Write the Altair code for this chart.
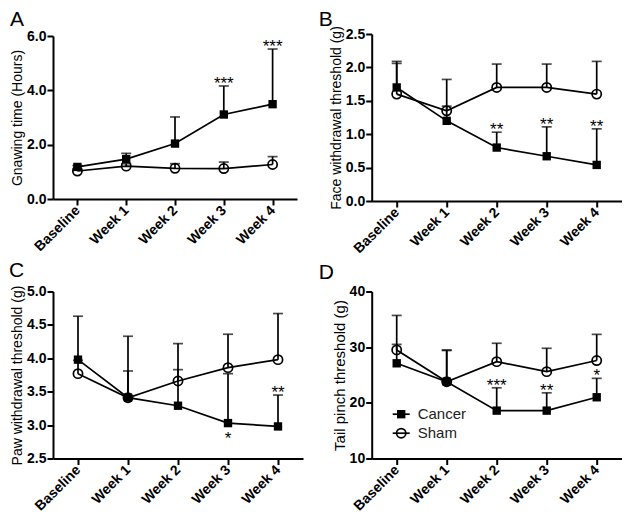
import altair as alt
import pandas as pd

weeks = ["Baseline", "Week 1", "Week 2", "Week 3", "Week 4"]
groups = ["Cancer", "Sham"]

# Panel A: Gnawing time (Hours)
a_cancer = [1.18, 1.47, 2.04, 3.11, 3.49]
a_cancer_top = [1.23, 1.68, 3.02, 4.16, 5.52]
a_sham = [1.03, 1.21, 1.13, 1.12, 1.27]
a_sham_top = [1.12, 1.30, 1.30, 1.36, 1.56]
a_stars = ["", "", "", "***", "***"]

# Panel B: Face withdrawal threshold (g)
b_cancer = [1.70, 1.20, 0.80, 0.67, 0.54]
b_cancer_top = [2.09, 1.42, 1.03, 1.11, 1.08]
b_sham = [1.60, 1.35, 1.70, 1.70, 1.60]
b_sham_top = [2.06, 1.82, 2.05, 2.05, 2.09]
b_stars = ["", "", "**", "**", "**"]

# Panel C: Paw withdrawal threshold (g)
c_cancer = [3.98, 3.41, 3.29, 3.03, 2.98]
c_cancer_top = [4.63, 3.81, 3.83, 3.77, 3.45]
c_sham = [3.77, 3.41, 3.66, 3.86, 3.98]
c_sham_top = [3.97, 4.33, 4.22, 4.36, 4.67]
c_stars = ["", "", "", "*", "**"]
c_stars_below = [False, False, False, True, False]

# Panel D: Tail pinch threshold (g)
d_cancer = [27.1, 23.8, 18.6, 18.6, 21.0]
d_cancer_top = [30.5, 29.4, 22.7, 21.8, 24.4]
d_sham = [29.5, 23.8, 27.4, 25.6, 27.6]
d_sham_top = [35.7, 29.5, 30.7, 29.8, 32.3]
d_stars = ["", "", "***", "**", "*"]

FONT = "Liberation Sans"
LW = 1.7


def panel(letter, title, title_size, cancer, cancer_top, sham, sham_top, stars,
          ydomain, yticks, yfmt, width, height, letter_xy, stars_below=None,
          legend=False):
    rows = []
    for i, w in enumerate(weeks):
        rows.append({"week": w, "group": "Cancer", "mean": cancer[i], "top": cancer_top[i]})
        rows.append({"week": w, "group": "Sham", "mean": sham[i], "top": sham_top[i]})
    df = pd.DataFrame(rows)
    star_rows = []
    for i, w in enumerate(weeks):
        if stars[i]:
            below = bool(stars_below[i]) if stars_below else False
            star_rows.append({"week": w, "label": stars[i],
                              "y": cancer[i] if below else cancer_top[i],
                              "below": below})
    sdf = pd.DataFrame(star_rows)

    X = alt.X("week:N", sort=weeks, title=None,
              scale=alt.Scale(type="point", padding=0.5),
              axis=alt.Axis(labelAngle=-45, labelAlign="right", labelBaseline="middle",
                            labelPadding=3, labelOverlap=False))

    def Yf(field):
        return alt.Y(field, title=title,
                     scale=alt.Scale(domain=ydomain, nice=False, zero=False),
                     axis=alt.Axis(values=yticks, format=yfmt, titleFontSize=title_size,
                                   titlePadding=2, labelPadding=1, labelOverlap=False,
                                   labelFlush=False))

    Y = Yf("mean:Q")
    base = alt.Chart(df)
    line = base.mark_line(color="black", strokeWidth=LW).encode(x=X, y=Y, detail="group:N")
    err = base.mark_rule(color="black", strokeWidth=LW).encode(x=X, y=Y, y2="top:Q")
    cap = base.mark_tick(color="black", size=10, thickness=LW).encode(x=X, y=Yf("top:Q"))
    sq = base.transform_filter(alt.datum.group == "Cancer").mark_point(
        shape="square", filled=True, size=70, color="black", opacity=1).encode(x=X, y=Y)
    ci = base.transform_filter(alt.datum.group == "Sham").mark_point(
        shape="circle", filled=False, size=85, color="black", strokeWidth=LW,
        opacity=1).encode(x=X, y=Y)
    layers = [line, err, cap, sq, ci]
    if len(sdf):
        sbase = alt.Chart(sdf)
        above = sbase.transform_filter(alt.datum.below == False).mark_text(
            font=FONT, fontSize=17, color="black", baseline="alphabetic", dy=3
        ).encode(x=X, y=Yf("y:Q"), text="label:N")
        layers.append(above)
        if stars_below and any(stars_below):
            below = sbase.transform_filter(alt.datum.below == True).mark_text(
                font=FONT, fontSize=17, color="black", baseline="alphabetic", dy=21
            ).encode(x=X, y=Yf("y:Q"), text="label:N")
            layers.append(below)
    ldf = pd.DataFrame({"t": [letter]})
    lt = alt.Chart(ldf).mark_text(font=FONT, fontSize=21, color="black", align="left",
                                  baseline="alphabetic").encode(
        x=alt.value(letter_xy[0]), y=alt.value(letter_xy[1]), text="t:N")
    layers.append(lt)
    if legend:
        for k, (g, yy) in enumerate([("Cancer", 122.7), ("Sham", 141.7)]):
            gdf = pd.DataFrame({"t": [g]})
            gc = alt.Chart(gdf)
            layers.append(gc.mark_rule(color="black", strokeWidth=LW).encode(
                x=alt.value(21), x2=alt.value(38), y=alt.value(yy)))
            if g == "Cancer":
                layers.append(gc.mark_point(shape="square", filled=True, size=70,
                                            color="black", opacity=1).encode(
                    x=alt.value(29.5), y=alt.value(yy)))
            else:
                layers.append(gc.mark_point(shape="circle", filled=False, size=85,
                                            color="black", strokeWidth=LW,
                                            opacity=1).encode(
                    x=alt.value(29.5), y=alt.value(yy)))
            layers.append(gc.mark_text(font=FONT, fontSize=15, color="#222",
                                       align="left", baseline="middle").encode(
                x=alt.value(46), y=alt.value(yy), text="t:N"))
    return alt.layer(*layers).properties(width=width, height=height)


pA = panel("A", "Gnawing time (Hours)", 14, a_cancer, a_cancer_top, a_sham,
           a_sham_top, a_stars, [0, 6], [0, 2, 4, 6], ".1f", 244, 163, (-43, -10.2))
pB = panel("B", "Face withdrawal threshold (g)", 14, b_cancer, b_cancer_top,
           b_sham, b_sham_top, b_stars, [0, 2.5], [0, 0.5, 1, 1.5, 2, 2.5], ".1f",
           250, 167, (-53, -8.2))
pC = panel("C", "Paw withdrawal threshold (g)", 14, c_cancer, c_cancer_top, c_sham,
           c_sham_top, c_stars, [2.5, 5], [2.5, 3, 3.5, 4, 4.5, 5], ".1f", 250, 167,
           (-44, -14.5), stars_below=c_stars_below)
pD = panel("D", "Tail pinch threshold (g)", 15, d_cancer, d_cancer_top, d_sham,
           d_sham_top, d_stars, [10, 40], [10, 20, 30, 40], "d", 250, 167,
           (-53, -13), legend=True)

chart = alt.concat(pA, pB, pC, pD, columns=2,
                   spacing={"row": 90.5, "column": 68.7},
                   bounds="flush", center={"row": True, "column": False}).properties(
    padding={"left": 1, "top": 0, "right": 0, "bottom": 0}
).configure_view(stroke=None).configure_axis(
    domainColor="black", domainWidth=2, tickColor="black", tickWidth=2, tickSize=6,
    labelFont=FONT, labelFontWeight="bold", labelFontSize=14, labelColor="black",
    titleFont=FONT, titleFontWeight="normal", titleColor="black", grid=False
)

chart.save("out.html", embed_options={"renderer": "svg", "actions": False})
